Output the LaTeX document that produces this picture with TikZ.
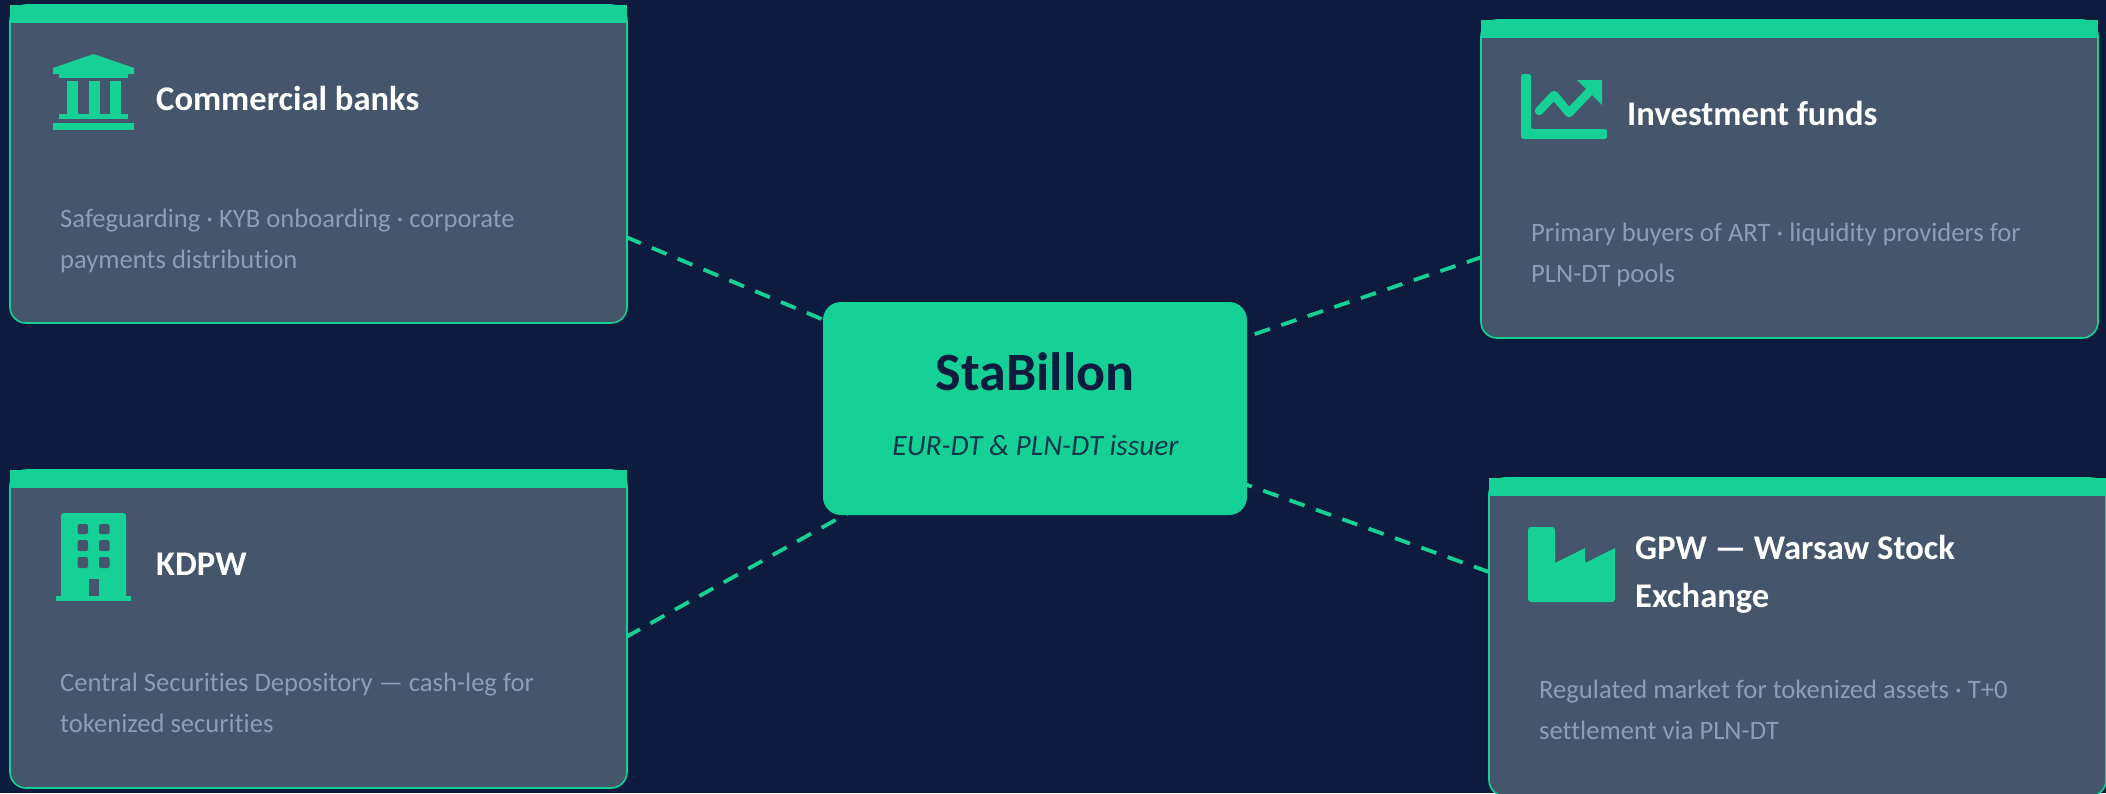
\documentclass[tikz,border=0pt]{standalone}
\usepackage{fontspec}
\setmainfont{Carlito}[Ligatures={NoCommon}]
\definecolor{bgnavy}{HTML}{0D1B3E}
\definecolor{cardfill}{HTML}{45556B}
\definecolor{accent}{HTML}{16D196}
\definecolor{muted}{HTML}{8E9DB6}
\pgfdeclarelayer{back}
\pgfsetlayers{back,main}
\begin{document}
\begin{tikzpicture}[x=1pt,y=-1pt,
  cardbox/.style={draw=accent, line width=1.6pt, fill=cardfill, rounded corners=16pt,
    minimum width=617pt, minimum height=318pt, anchor=north west, inner sep=0pt, outer sep=0pt},
  topbar/.style={fill=accent},
  cardtitle/.style={anchor=base west, inner sep=0pt, text=white, align=left,
    font=\fontsize{34.6}{48}\selectfont\bfseries},
  carddesc/.style={anchor=base west, inner sep=0pt, text=muted, align=left,
    font=\fontsize{26.6}{41}\selectfont},
  link/.style={draw=accent, line width=3.8pt, dash pattern=on 16pt off 12pt},
  hubbox/.style={fill=accent, rounded corners=18pt, minimum width=424pt, minimum height=213pt,
    inner sep=0pt, outer sep=0pt},
  hubtitle/.style={anchor=base, inner sep=0pt, text=bgnavy, font=\fontsize{54}{60}\selectfont\bfseries},
  hubsub/.style={anchor=base, inner sep=0pt, text=bgnavy, text opacity=0.85, font=\fontsize{29.4}{34}\selectfont\itshape},
  iconpart/.style={fill=accent},
  iconhole/.style={fill=cardfill, rounded corners=1.5pt},
]
\useasboundingbox (0,0) rectangle (2106,793);

% ---------- cards ----------
\node[cardbox] (banks) at (10,5) {};
\fill[topbar] (banks.north west) rectangle ([yshift=-18pt]banks.north east);
\node[cardbox] (funds) at (1481,20) {};
\fill[topbar] (funds.north west) rectangle ([yshift=-18pt]funds.north east);
\node[cardbox] (kdpw) at (10,470) {};
\fill[topbar] (kdpw.north west) rectangle ([yshift=-18pt]kdpw.north east);
\node[cardbox] (gpw) at (1489,478) {};
\fill[topbar] (gpw.north west) rectangle ([yshift=-18pt]gpw.north east);

% ---------- hub ----------
\node[hubbox] (hub) at (1035,408.5) {};
\node[hubtitle] (hubname) at (1035,390) {StaBillon};
\node[hubsub] (hubrole) at (1035.5,455) {EUR-DT \& PLN-DT issuer};

% ---------- connectors ----------
\coordinate (e1) at (626,237);
\coordinate (e2) at (1482,257);
\coordinate (e3) at (626,637);
\coordinate (e4) at (1489,572);
\begin{pgfonlayer}{back}
  \fill[bgnavy] (0,0) rectangle (2106,793);
  \draw[link] (e1) -- (hub.center);
  \draw[link] (e2) -- (hub.center);
  \draw[link] (e3) -- (hub.center);
  \draw[link] (e4) -- (hub.center);
\end{pgfonlayer}

% ---------- bank icon ----------
\fill[iconpart] (53,68) -- (93.5,54) -- (134,68) -- (134,74) -- (53,74) -- cycle;
\fill[iconpart] (59,74) rectangle (128,78);
\fill[iconpart] (66.5,81) rectangle (77.5,114);
\fill[iconpart] (89,81) rectangle (99.5,114);
\fill[iconpart] (110,81) rectangle (120.5,114);
\fill[iconpart] (59,114) rectangle (128,119);
\fill[iconpart] (53,123) rectangle (134,130);

% ---------- chart icon ----------
\fill[iconpart, rounded corners=2.5pt] (1521,74) -- (1531,74) -- (1531,129) -- (1607,129) -- (1607,139) -- (1521,139) -- cycle;
\draw[accent, line width=8.5pt, line join=round, line cap=round] (1539,111) -- (1554,95) -- (1569,113) -- (1589,92);
\fill[iconpart] (1577,80) -- (1602,80) -- (1602,105) -- cycle;

% ---------- building icon ----------
\fill[iconpart, rounded corners=3pt] (61,600) -- (61,513) -- (126,513) -- (126,600) -- cycle;
\fill[iconpart] (56,596) rectangle (131,601);
\fill[iconhole] (77.5,524) rectangle (88,534);
\fill[iconhole] (99,524) rectangle (109.5,534);
\fill[iconhole] (77.5,540) rectangle (88,551);
\fill[iconhole] (99,540) rectangle (109.5,551);
\fill[iconhole] (77.5,557) rectangle (88,568);
\fill[iconhole] (99,557) rectangle (109.5,568);
\fill[cardfill] (88.5,579) rectangle (99,596);

% ---------- factory icon ----------
\fill[iconpart] (1528,590) [rounded corners=3pt] -- (1528,527) -- (1555,527) [sharp corners] -- (1555,563)
  -- (1585,548) -- (1585,563) -- (1615,548) [rounded corners=3pt] -- (1615,602) -- (1528,602) [sharp corners] -- cycle;

% ---------- texts (multi-line nodes: base = last line) ----------
\node[cardtitle] (banksT) at (156,110) {Commercial banks};
\node[carddesc] (banksD) at (60,268) {Safeguarding · KYB onboarding · corporate\\payments distribution};
\node[cardtitle] (fundsT) at (1627,125) {Investment funds};
\node[carddesc] (fundsD) at (1531,282) {Primary buyers of ART · liquidity providers for\\PLN-DT pools};
\node[cardtitle] (kdpwT) at (156,575) {KDPW};
\node[carddesc] (kdpwD) at (60,732) {Central Securities Depository — cash-leg for\\tokenized securities};
\node[cardtitle] (gpwT) at (1635,607) {GPW — Warsaw Stock\\Exchange};
\node[carddesc] (gpwD) at (1539,739) {Regulated market for tokenized assets · T+0\\settlement via PLN-DT};
\end{tikzpicture}
\end{document}
